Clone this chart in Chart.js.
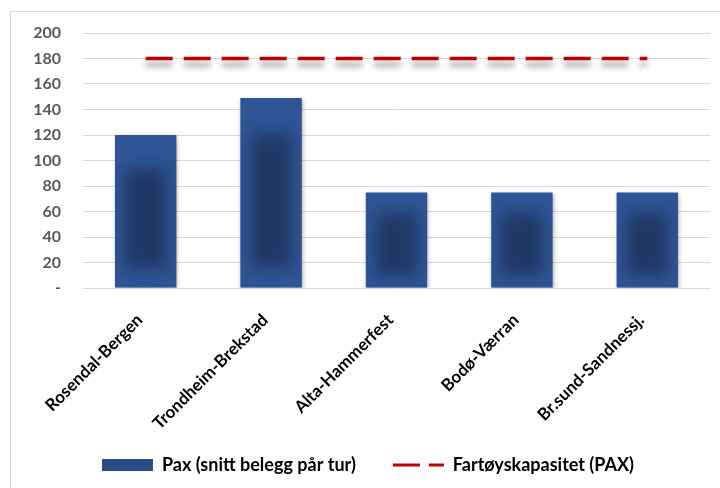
<!DOCTYPE html>
<html>
<head>
<meta charset="utf-8">
<script src="https://cdn.jsdelivr.net/npm/chart.js@4"></script>
<style>
  html, body { margin: 0; padding: 0; background: #fff; }
  #wrap { position: relative; width: 720px; height: 488px; overflow: hidden; }
  #frame { position: absolute; left: 10px; top: 11px; width: 760px; height: 520px; border: 1px solid #d9d9d9; }
  canvas { position: absolute; left: 0; top: 0; }
</style>
</head>
<body>
<div id="wrap">
  <div id="frame"></div>
  <canvas id="paxChart" width="720" height="488"></canvas>
</div>
<script>
const routes = ["Rosendal-Bergen", "Trondheim-Brekstad", "Alta-Hammerfest", "Bodø-Værran", "Br.sund-Sandnessj."];
const paxAverage = [120, 149, 75, 75, 75];
const vesselCapacity = [180, 180, 180, 180, 180];
const yMin = 0;
const yMax = 200;
const yStep = 20;

const barLabel = "Pax (snitt belegg pår tur)";
const lineLabel = "Fartøyskapasitet (PAX)";

// shadows under bars / dashed line, and the dark glow in the middle of each bar
const shadePlugin = {
  id: "shadePlugin",
  beforeDatasetDraw(chart, args) {
    const ctx = chart.ctx;
    ctx.save();
    if (args.meta.type === "line") {
      ctx.shadowColor = "rgba(0,0,0,0.45)";
      ctx.shadowBlur = 6;
      ctx.shadowOffsetY = 6;
    } else {
      ctx.shadowColor = "rgba(0,0,0,0.3)";
      ctx.shadowBlur = 4;
      ctx.shadowOffsetX = 1;
      ctx.shadowOffsetY = 2;
    }
  },
  afterDatasetDraw(chart, args) {
    const ctx = chart.ctx;
    ctx.restore();
    if (args.meta.type !== "bar") return;
    args.meta.data.forEach(bar => {
      const p = bar.getProps(["x", "y", "base", "width"], true);
      const left = p.x - p.width / 2;
      const h = p.base - p.y;
      const ix = p.width * 0.16;
      const top = Math.min(h * 0.22, 36);
      const bot = Math.min(h * 0.12, 20);
      ctx.save();
      ctx.beginPath();
      ctx.rect(left, p.y, p.width, h);
      ctx.clip();
      ctx.filter = "blur(8px)";
      ctx.fillStyle = "#1f3864";
      ctx.fillRect(left + ix, p.y + top, p.width - 2 * ix, h - top - bot);
      ctx.restore();
    });
  }
};

const ctx = document.getElementById("paxChart").getContext("2d");

new Chart(ctx, {
  type: "bar",
  data: {
    labels: routes,
    datasets: [
      {
        label: barLabel,
        data: paxAverage,
        backgroundColor: "#2F5597",
        borderWidth: 0,
        barPercentage: 0.49,
        categoryPercentage: 1,
        order: 1
      },
      {
        type: "line",
        label: lineLabel,
        data: vesselCapacity,
        borderColor: "#C00000",
        borderWidth: 3.5,
        borderDash: [27, 11],
        borderCapStyle: "butt",
        pointRadius: 0,
        fill: false,
        order: 0
      }
    ]
  },
  options: {
    responsive: false,
    animation: false,
    layout: {
      padding: { top: 33, left: 26, right: 10, bottom: 4 }
    },
    plugins: {
      tooltip: { enabled: false },
      legend: {
        position: "bottom",
        labels: {
          usePointStyle: true,
          pointStyleWidth: 51,
          boxHeight: 12,
          padding: 10,
          color: "#595959",
          font: { family: "Lato", weight: "bold", size: 18 },
          generateLabels() {
            return [
              {
                text: barLabel + "\u2003\u2003",
                fillStyle: "#2A4C89",
                strokeStyle: "#2A4C89",
                lineWidth: 0,
                pointStyle: "rect",
                datasetIndex: 0,
                hidden: false
              },
              {
                text: lineLabel,
                fillStyle: "#C00000",
                strokeStyle: "#C00000",
                lineWidth: 3,
                lineDash: [27, 9],
                lineDashOffset: 0,
                pointStyle: "line",
                datasetIndex: 1,
                hidden: false
              }
            ];
          }
        }
      }
    },
    scales: {
      x: {
        grid: { display: false },
        border: { display: false },
        ticks: {
          color: "#000",
          font: { family: "Lato", weight: "bold", size: 17 },
          minRotation: 45,
          maxRotation: 45,
          padding: 14,
          labelOffset: -6
        },
        afterFit(scale) {
          scale.height = 158;
        }
      },
      y: {
        min: yMin,
        max: yMax,
        grid: { color: "#D9D9D9", drawTicks: false },
        border: { display: false },
        ticks: {
          stepSize: yStep,
          color: "#595959",
          font: { family: "Lato", weight: "bold", size: 16 },
          padding: 22,
          callback: v => (v === 0 ? "-" : v)
        },
        afterFit(scale) {
          scale.width = 57;
        }
      }
    }
  },
  plugins: [shadePlugin]
});
</script>
</body>
</html>
